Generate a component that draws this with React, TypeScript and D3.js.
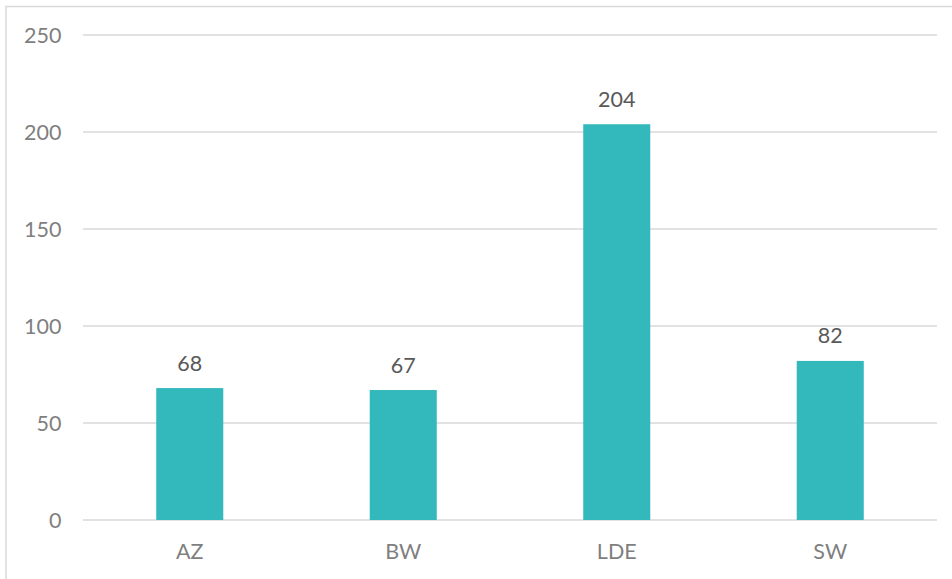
import React from "react";
import * as d3 from "d3";

const categories = ["AZ", "BW", "LDE", "SW"];
const values = [68, 67, 204, 82];
const yTicks = [0, 50, 100, 150, 200, 250];

const W = 952;
const H = 579;
const plotLeft = 83;
const plotRight = 937;
const plotTop = 35;
const plotBottom = 520;

export default function App() {
  const x = d3.scaleBand<string>().domain(categories).range([plotLeft, plotRight]).padding(0);
  const y = d3.scaleLinear().domain([0, 250]).range([plotBottom, plotTop]);
  const barW = x.bandwidth() * 0.314;
  const font = "Lato, 'Open Sans', sans-serif";
  const fs = 21.5;
  return (
    <svg width={W} height={H} style={{ position: "absolute", left: 0, top: 0 }}>
      <rect x={0} y={0} width={W} height={H} fill="#fff" />
      <rect x={6} y={6.5} width={W + 20} height={H + 20} fill="none" stroke="#d9d9d9" strokeWidth={1.5} />
      {yTicks.map((t) => (
        <g key={t}>
          <line x1={plotLeft} x2={plotRight} y1={y(t)} y2={y(t)} stroke="#d9d9d9" strokeWidth={1.5} />
          <text x={61.5} y={y(t) + 0.5} dy="0.35em" textAnchor="end" fontFamily={font} fontSize={fs} fill="#7f7f7f">
            {t}
          </text>
        </g>
      ))}
      {categories.map((c, i) => {
        const cx = (x(c) as number) + x.bandwidth() / 2;
        return (
          <g key={c}>
            <rect x={cx - barW / 2} y={y(values[i])} width={barW} height={plotBottom - y(values[i])} fill="#33b8bc" />
            <text x={cx} y={y(values[i]) - 25} dy="0.35em" textAnchor="middle" fontFamily={font} fontSize={fs} fill="#595959">
              {values[i]}
            </text>
            <text x={cx} y={551} dy="0.35em" textAnchor="middle" fontFamily={font} fontSize={fs} fill="#7f7f7f">
              {c}
            </text>
          </g>
        );
      })}
    </svg>
  );
}
